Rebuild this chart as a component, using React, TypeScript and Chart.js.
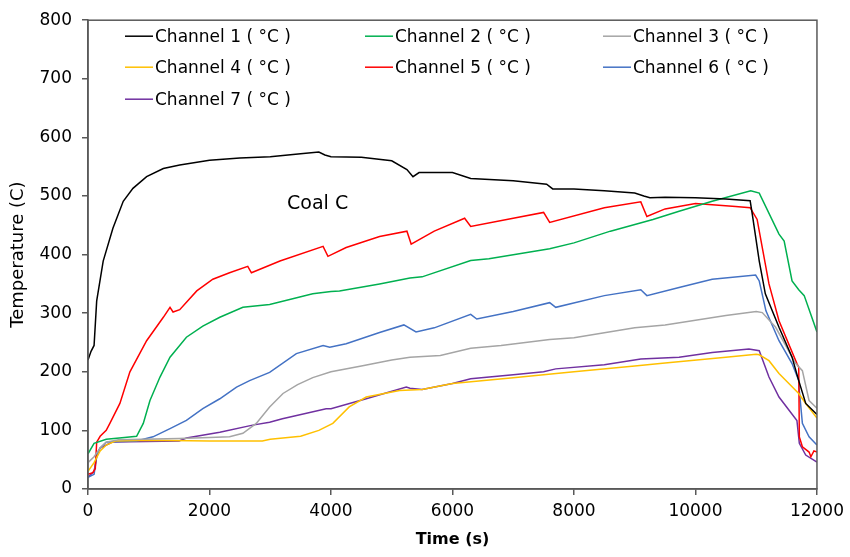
import React, { useEffect, useRef } from "react";
import { Chart, registerables } from "chart.js";

Chart.register(...registerables);

const seriesLabels = [
  "Channel 1 ( °C )",
  "Channel 2 ( °C )",
  "Channel 3 ( °C )",
  "Channel 4 ( °C )",
  "Channel 5 ( °C )",
  "Channel 6 ( °C )",
  "Channel 7 ( °C )",
];
const seriesColors = ["#000000", "#00B050", "#A5A5A5", "#FFC000", "#FF0000", "#4472C4", "#7030A0"];

const ch1: [number, number][] = [
  [0, 220], [50, 235], [100, 245], [143, 321], [250, 389], [410, 445], [580, 491], [740, 513], [965, 533],
  [1240, 547], [1510, 553], [2000, 561], [2500, 565], [3000, 567], [3500, 572], [3800, 575], [3900, 570],
  [4000, 567], [4500, 566], [5000, 560], [5250, 545], [5350, 533], [5450, 540], [6000, 540], [6300, 530],
  [7000, 526], [7550, 520], [7650, 512], [8000, 512], [8500, 509], [9000, 505], [9150, 500], [9250, 497],
  [9500, 498], [10000, 497], [10500, 495], [10900, 492], [10935, 469], [11050, 389], [11150, 333],
  [11375, 276], [11590, 225], [11700, 185], [11815, 146], [12000, 127],
];
const ch2: [number, number][] = [
  [0, 60], [100, 78], [300, 85], [600, 88], [800, 90], [910, 112], [1020, 151], [1185, 191], [1350, 225],
  [1620, 259], [1890, 278], [2170, 293], [2550, 310], [2990, 315], [3700, 333], [4000, 337], [4140, 338],
  [4800, 350], [5300, 360], [5500, 362], [6300, 390], [6600, 393], [7600, 410], [8000, 420], [8600, 440],
  [9300, 460], [9730, 474], [10275, 491], [10910, 509], [11050, 505], [11375, 435], [11460, 423],
  [11590, 355], [11700, 340], [11790, 330], [12000, 268],
];
const ch3: [number, number][] = [
  [0, 45], [100, 55], [200, 70], [300, 80], [500, 84], [1500, 86], [2000, 88], [2330, 89], [2550, 95],
  [2770, 112], [2990, 140], [3210, 163], [3450, 178], [3700, 190], [4000, 200], [4500, 210], [5000, 220],
  [5300, 225], [5800, 228], [6300, 240], [6800, 245], [7600, 255], [8000, 258], [9000, 275], [9500, 280],
  [10000, 288], [10500, 296], [11000, 303], [11100, 301], [11320, 276], [11650, 214], [11760, 202],
  [11870, 151], [12000, 138],
];
const ch4: [number, number][] = [
  [0, 30], [100, 45], [200, 65], [300, 75], [450, 82], [1000, 83], [2000, 82], [2870, 82], [3000, 85],
  [3500, 90], [3800, 100], [4030, 112], [4300, 140], [4580, 157], [5130, 168], [5500, 170], [6000, 180],
  [7000, 190], [8000, 200], [9000, 210], [9500, 215], [10500, 225], [11000, 230], [11050, 229],
  [11210, 219], [11375, 197], [11700, 163], [11815, 146], [12000, 121],
];
const ch5: [number, number][] = [
  [0, 25], [80, 28], [120, 35], [143, 80], [200, 90], [300, 100], [360, 112], [525, 146], [690, 200],
  [965, 253], [1240, 293], [1350, 310], [1400, 302], [1510, 306], [1790, 338], [2055, 358], [2330, 369],
  [2630, 380], [2690, 369], [3160, 389], [3870, 414], [3950, 397], [4250, 412], [4800, 431], [5250, 440],
  [5320, 418], [5700, 440], [6200, 462], [6300, 448], [7000, 462], [7500, 472], [7600, 455], [8500, 480],
  [9100, 490], [9200, 465], [9500, 478], [10000, 487], [10660, 482], [10900, 480], [11015, 460],
  [11100, 412], [11210, 350], [11375, 287], [11670, 214], [11700, 208], [11710, 89], [11760, 72],
  [11870, 63], [11900, 55], [11950, 65], [12000, 63],
];
const ch6: [number, number][] = [
  [0, 20], [100, 25], [150, 60], [200, 70], [300, 80], [800, 82], [1070, 89], [1350, 103], [1620, 117],
  [1890, 137], [2170, 154], [2445, 174], [2660, 185], [2990, 199], [3430, 231], [3870, 245], [3980, 242],
  [4250, 248], [4800, 267], [5200, 280], [5400, 268], [5700, 275], [6300, 298], [6400, 290], [7000, 303],
  [7600, 318], [7700, 310], [8500, 330], [9100, 340], [9200, 330], [9730, 344], [10275, 358], [10990, 365],
  [11050, 355], [11160, 304], [11375, 253], [11590, 214], [11700, 185], [11710, 168], [11760, 112],
  [11870, 89], [12000, 75],
];
const ch7: [number, number][] = [
  [0, 20], [100, 30], [150, 60], [200, 70], [400, 80], [1500, 82], [1620, 87], [2170, 97], [2710, 109],
  [2990, 114], [3200, 120], [3920, 137], [4000, 137], [4580, 154], [5240, 174], [5300, 172], [5500, 170],
  [6000, 180], [6300, 188], [7000, 195], [7500, 200], [7700, 205], [8500, 212], [9100, 222], [9730, 225],
  [10275, 233], [10880, 239], [11050, 236], [11210, 191], [11375, 157], [11670, 117], [11710, 78],
  [11815, 58], [12000, 46],
];
const seriesData = [ch1, ch2, ch3, ch4, ch5, ch6, ch7];

const annotationText = "Coal C";
const annotationAt = { x: 3780, y: 487 };

const FONT = "'DejaVu Sans', sans-serif";
const AXIS_COLOR = "#595959";

const framePlugin = {
  id: "frame",
  afterDatasetsDraw(chart: any) {
    const { ctx, chartArea } = chart;
    ctx.save();
    ctx.strokeStyle = AXIS_COLOR;
    ctx.lineWidth = 1.5;
    ctx.strokeRect(chartArea.left, chartArea.top, chartArea.right - chartArea.left, chartArea.bottom - chartArea.top);
    ctx.restore();
  },
};

const legendPlugin = {
  id: "insideLegend",
  afterDraw(chart: any) {
    const { ctx, chartArea } = chart;
    const colX = [37, 277, 515];
    const rowY = [16, 47, 79];
    ctx.save();
    ctx.font = `17px ${FONT}`;
    ctx.textBaseline = "middle";
    ctx.textAlign = "left";
    chart.data.datasets.forEach((ds: any, i: number) => {
      const x = chartArea.left + colX[i % 3];
      const y = chartArea.top + rowY[Math.floor(i / 3)];
      ctx.strokeStyle = ds.borderColor;
      ctx.lineWidth = 1.5;
      ctx.beginPath();
      ctx.moveTo(x, y);
      ctx.lineTo(x + 28, y);
      ctx.stroke();
      ctx.fillStyle = "#000000";
      ctx.fillText(ds.label, x + 30, y + 1);
    });
    ctx.restore();
  },
};

const annotationPlugin = {
  id: "coalLabel",
  afterDraw(chart: any) {
    const { ctx, scales } = chart;
    ctx.save();
    ctx.font = `19px ${FONT}`;
    ctx.fillStyle = "#000000";
    ctx.textAlign = "center";
    ctx.textBaseline = "middle";
    ctx.fillText(annotationText, scales.x.getPixelForValue(annotationAt.x), scales.y.getPixelForValue(annotationAt.y));
    ctx.restore();
  },
};

export default function App() {
  const canvasRef = useRef<HTMLCanvasElement | null>(null);

  useEffect(() => {
    if (!canvasRef.current) return;
    const chart = new Chart(canvasRef.current, {
      type: "line",
      data: {
        datasets: seriesData.map((d, i) => ({
          label: seriesLabels[i],
          data: d.map(([x, y]) => ({ x, y })),
          borderColor: seriesColors[i],
          backgroundColor: seriesColors[i],
          borderWidth: 1.5,
          pointRadius: 0,
          tension: 0,
          fill: false,
        })),
      },
      options: {
        animation: false,
        responsive: false,
        maintainAspectRatio: false,
        devicePixelRatio: 1,
        layout: { padding: { top: 18, right: 32, left: 0, bottom: 0 } },
        plugins: { legend: { display: false }, tooltip: { enabled: false } },
        scales: {
          x: {
            type: "linear",
            min: 0,
            max: 12000,
            ticks: {
              stepSize: 2000,
              font: { family: FONT, size: 17 },
              color: "#000000",
              padding: 6,
              maxRotation: 0,
              callback: (v: any) => String(v),
            },
            grid: { display: true, drawOnChartArea: false, drawTicks: true, tickLength: 6, color: AXIS_COLOR, lineWidth: 1.5 },
            border: { display: true, color: AXIS_COLOR, width: 1.5 },
            title: { display: true, text: "Time (s)", font: { family: FONT, size: 16, weight: "bold" }, color: "#000000", padding: { top: 2, bottom: 8 } },
            afterFit: (scale: any) => { scale.height = 68; },
          },
          y: {
            min: 0,
            max: 800,
            ticks: { stepSize: 100, font: { family: FONT, size: 17 }, color: "#000000", padding: 10 },
            grid: { display: true, drawOnChartArea: false, drawTicks: true, tickLength: 6, color: AXIS_COLOR, lineWidth: 1.5 },
            border: { display: true, color: AXIS_COLOR, width: 1.5 },
            title: { display: true, text: "Temperature (C)", font: { family: FONT, size: 18 }, color: "#000000", padding: { top: 8, bottom: 4 } },
            afterFit: (scale: any) => { scale.width = 88; },
          },
        },
      },
      plugins: [framePlugin, legendPlugin, annotationPlugin],
    });
    return () => chart.destroy();
  }, []);

  return (
    <div style={{ position: "fixed", left: 0, top: 0, width: 850, height: 557, background: "#ffffff" }}>
      <canvas ref={canvasRef} width={850} height={557} style={{ width: 850, height: 557 }} />
    </div>
  );
}
